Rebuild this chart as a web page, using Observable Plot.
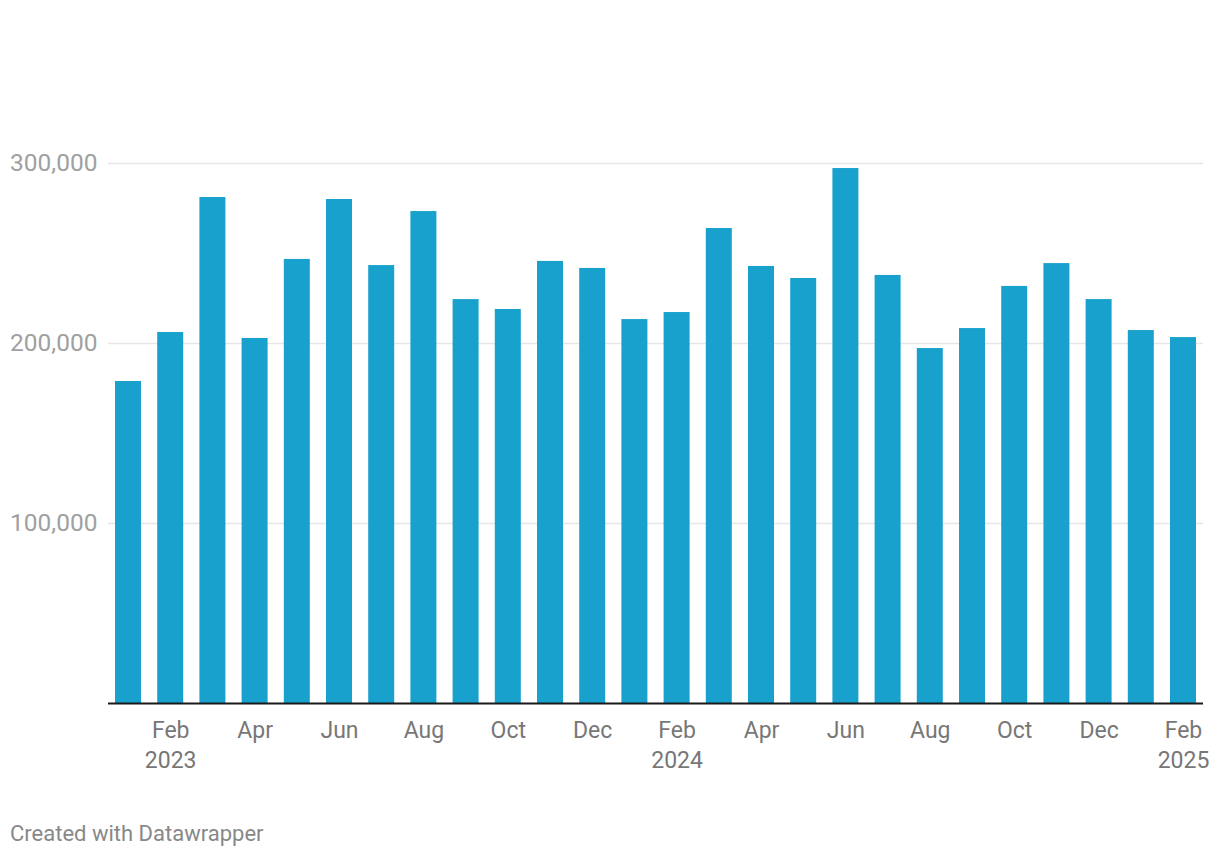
<!DOCTYPE html>
<html>
<head>
<meta charset="utf-8">
<script src="https://cdn.jsdelivr.net/npm/d3@7"></script>
<script src="https://cdn.jsdelivr.net/npm/@observablehq/plot@0.6"></script>
<style>
  html, body { margin: 0; padding: 0; background: #fff; }
  #wrap { position: relative; width: 1220px; height: 856px; font-family: Roboto, sans-serif; }
  #chart { position: absolute; left: 0; top: 0; }
  #caption { position: absolute; left: 10px; top: 823px; font-size: 22px; line-height: 22px; color: #888; font-family: Roboto, sans-serif; }
</style>
</head>
<body>
<div id="wrap">
  <div id="chart"></div>
  <div id="caption">Created with Datawrapper</div>
</div>
<script>
const months = ["2023-01","2023-02","2023-03","2023-04","2023-05","2023-06","2023-07","2023-08","2023-09","2023-10","2023-11","2023-12",
                "2024-01","2024-02","2024-03","2024-04","2024-05","2024-06","2024-07","2024-08","2024-09","2024-10","2024-11","2024-12",
                "2025-01","2025-02"];
const values = [178900, 206100, 281100, 202800, 246700, 280000, 243300, 273300, 224400, 218900, 245600, 241700,
                213300, 217200, 263900, 242800, 236100, 297200, 237800, 197200, 208300, 231700, 244400, 224400,
                207200, 203300];
const monthLabels = ["Jan","Feb","Mar","Apr","May","Jun","Jul","Aug","Sep","Oct","Nov","Dec"];
const yTicks = [100000, 200000, 300000];

const data = months.map((m, i) => ({month: m, value: values[i]}));
const xTicks = months.filter((d, i) => i % 2 === 1);
const fmtX = d => {
  const [yr, mo] = d.split("-");
  const lab = monthLabels[+mo - 1];
  return mo === "02" ? lab + "\n" + yr : lab;
};

const chart = Plot.plot({
  width: 1220,
  height: 790,
  marginTop: 163,
  marginBottom: 87,
  marginLeft: 108,
  marginRight: 17,
  style: {fontFamily: "Roboto, sans-serif", background: "transparent", overflow: "visible"},
  x: {type: "band", domain: months, paddingInner: 0.384, paddingOuter: 0.166, round: false, label: null, axis: null},
  y: {domain: [0, 300000], label: null, axis: null},
  marks: [
    Plot.gridY(yTicks, {stroke: "#e6e6e6", strokeOpacity: 1, strokeWidth: 1.5}),
    Plot.axisY(yTicks, {tickSize: 0, tickPadding: 11, tickFormat: d3.format(","), fontSize: 24.5, color: "#a0a0a0", label: null}),
    Plot.barY(data, {x: "month", y: "value", fill: "#18a1cd"}),
    Plot.ruleY([0], {stroke: "#1a1a1a", strokeWidth: 2}),
    Plot.axisX(xTicks, {tickSize: 0, tickPadding: 13, tickFormat: fmtX, fontSize: 23, lineHeight: 1.3, color: "#777", label: null})
  ]
});
document.getElementById("chart").appendChild(chart);
</script>
</body>
</html>
